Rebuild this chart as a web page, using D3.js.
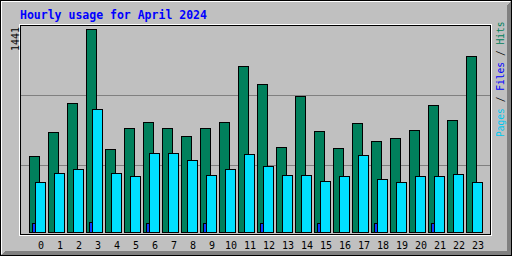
<!DOCTYPE html>
<html><head><meta charset="utf-8">
<script src="https://cdn.jsdelivr.net/npm/d3@7"></script>
<style>html,body{margin:0;padding:0;background:#C0C0C0;} svg{display:block;}</style>
</head><body>
<script>
const title = "Hourly usage for April 2024";
const hours = ["0","1","2","3","4","5","6","7","8","9","10","11","12","13","14","15","16","17","18","19","20","21","22","23"];
const hits  = [540, 710, 916, 1441, 589, 738, 781, 738, 681, 738, 781, 1178, 1051, 603, 965, 717, 596, 774, 646, 667, 724, 901, 795, 1249];
const files = [64, 0, 0, 71, 3, 3, 64, 0, 0, 64, 3, 3, 64, 0, 3, 64, 3, 3, 64, 0, 0, 64, 0, 3];
const pages = [355, 419, 447, 873, 419, 397, 561, 561, 511, 405, 447, 554, 468, 405, 405, 362, 397, 547, 376, 355, 397, 397, 412, 355];
const maxLabel = "1441";
const legendParts = [["Pages","#00C8F0"],[" / ","#000000"],["Files","#0000FF"],[" / ","#000000"],["Hits","#00805C"]];

const W = 512, H = 256;
const C = {bg:"#C0C0C0", hit:"#00805C", file:"#0a3cff", page:"#00E0FF", grid:"#808080", dk:"#808080"};

const svg = d3.select("body").append("svg").attr("width", W).attr("height", H)
  .attr("shape-rendering","crispEdges");

// background & 3D border
svg.append("rect").attr("x",0).attr("y",0).attr("width",W).attr("height",H).attr("fill",C.bg);
svg.append("polygon").attr("points","1,255 511,255 511,1 507,5 507,251 5,251").attr("fill",C.dk);
svg.append("rect").attr("x",0.5).attr("y",0.5).attr("width",W-1).attr("height",H-1).attr("fill","none").attr("stroke","#000");
svg.append("line").attr("x1",1).attr("y1",1.5).attr("x2",510).attr("y2",1.5).attr("stroke","#fff");
svg.append("line").attr("x1",1.5).attr("y1",1).attr("x2",1.5).attr("y2",254).attr("stroke","#fff");

// inner frame
svg.append("rect").attr("x",19.5).attr("y",24.5).attr("width",472).attr("height",211).attr("fill","none").attr("stroke","#fff");
svg.append("rect").attr("x",20.5).attr("y",25.5).attr("width",470).attr("height",209).attr("fill",C.bg).attr("stroke","#000");

// scales
const x = d3.scaleLinear().domain([0, 23]).range([29, 29 + 23*19]);
const y = d3.scaleLinear().domain([0, d3.max(hits)]).range([232, 29]);

// grid lines
const gridVals = [y.invert(95), y.invert(165)];
svg.append("g").selectAll("line").data(gridVals).enter().append("line")
  .attr("x1",21).attr("x2",490)
  .attr("y1",d=>Math.round(y(d))+0.5).attr("y2",d=>Math.round(y(d))+0.5)
  .attr("stroke",C.grid);

function bars(vals, off, color){
  const g = svg.append("g");
  vals.forEach((v,i)=>{
    if (v <= 0) return;
    const x1 = Math.round(x(i)) + off;
    const y1 = Math.round(y(v));
    const h = 232 - y1;
    if (h <= 0) {
      g.append("rect").attr("x",x1).attr("y",232).attr("width",11).attr("height",1).attr("fill","#000");
    } else {
      g.append("rect").attr("x",x1+0.5).attr("y",y1+0.5).attr("width",10).attr("height",h)
        .attr("fill",color).attr("stroke","#000").attr("stroke-width",1);
    }
  });
}
bars(hits, 0, C.hit);
bars(files, 3, C.file);
bars(pages, 6, C.page);

// hour labels
svg.append("g").selectAll("text").data(hours).enter().append("text")
  .attr("x",(d,i)=>x(i)+12).attr("y",249)
  .attr("text-anchor","middle")
  .attr("font-family","DejaVu Sans Mono").attr("font-size","10px").attr("fill","#000")
  .text(d=>d);

// title
svg.append("text").attr("x",20).attr("y",19)
  .attr("font-family","DejaVu Sans Mono").attr("font-weight","bold").attr("font-size","11.5px")
  .attr("fill","#0000FF").text(title);

// max label
svg.append("text").attr("transform","translate(19,27) rotate(-90)")
  .attr("text-anchor","end")
  .attr("font-family","DejaVu Sans Mono").attr("font-size","10px").attr("fill","#000")
  .text(maxLabel);

// right legend
const lt = svg.append("text").attr("transform","translate(504,137) rotate(-90)")
  .attr("font-family","DejaVu Sans Mono").attr("font-size","9.6px").attr("xml:space","preserve");
legendParts.forEach(p=>lt.append("tspan").attr("fill",p[1]).text(p[0]));
</script>
</body></html>
